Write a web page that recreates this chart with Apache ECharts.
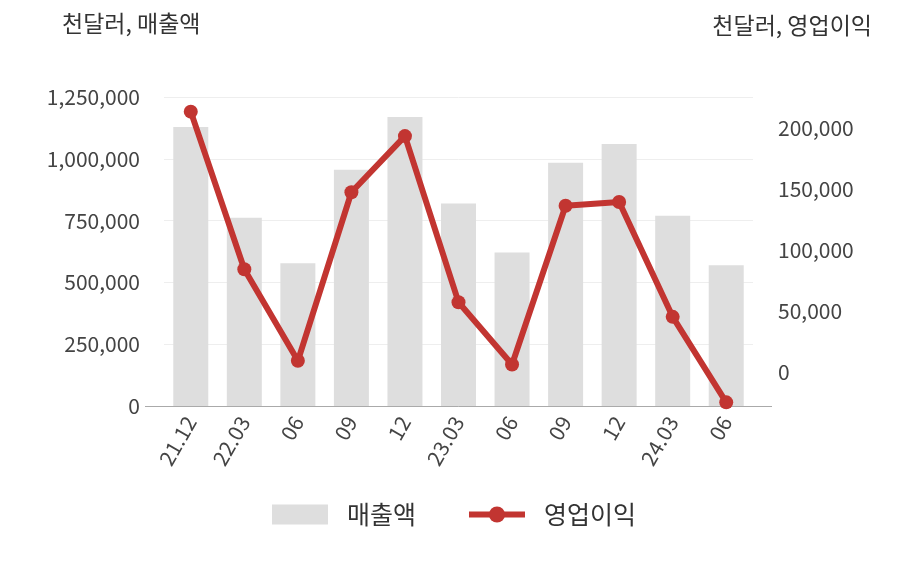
<!DOCTYPE html>
<html><head><meta charset="utf-8">
<script src="https://cdn.jsdelivr.net/npm/echarts@6/dist/echarts.min.js"></script>
<style>html,body{margin:0;padding:0;background:#fff}#c{width:908px;height:580px}</style>
</head><body><div id="c"></div>
<script>
const categories = ['21.12','22.03','06','09','12','23.03','06','09','12','24.03','06'];
const sales = [1129000,762000,577000,956000,1169000,819000,621000,984000,1060000,770000,569000];
const profit = [213000,84000,9000,147000,193000,57000,6000,136000,139000,45000,-25000];
const font = '"Noto Sans CJK KR","Noto Sans",sans-serif';
const chart = echarts.init(document.getElementById('c'));
chart.setOption({
  animation:false,
  textStyle:{fontFamily:font},
  grid:{left:164,right:155,top:97,bottom:174},
  graphic:[
    {type:'text',left:62,top:12,style:{text:'천달러, 매출액',fontSize:23,fill:'#333',fontFamily:font}},
    {type:'text',right:36,top:14,style:{text:'천달러, 영업이익',fontSize:23,fill:'#333',fontFamily:font}},
    {type:'line',shape:{x1:145,y1:406.5,x2:772,y2:406.5},style:{stroke:'#aaa',lineWidth:1}}
  ],
  legend:{bottom:48,left:'center',itemGap:50,itemWidth:56,itemHeight:20,
    textStyle:{fontSize:25,color:'#333',fontFamily:font,padding:[0,0,0,14]},
    data:[{name:'매출액',icon:'rect'},{name:'영업이익',lineStyle:{width:6}}]},
  xAxis:{type:'category',data:categories,
    axisLine:{lineStyle:{color:'#aaa'}},axisTick:{show:false},
    axisLabel:{rotate:60,fontSize:21,color:'#444',interval:0,margin:12}},
  yAxis:[
    {type:'value',min:0,max:1250000,interval:250000,
     axisLabel:{fontSize:21,color:'#444',margin:24,formatter:v=>v.toLocaleString('en-US')},
     splitLine:{lineStyle:{color:'#eee'}},axisLine:{show:false},axisTick:{show:false}},
    {type:'value',min:-28000,max:225000,interval:1000,
     axisLabel:{fontSize:21,color:'#444',interval:0,margin:25,
       formatter:v=>(v%50000===0&&v>=0&&v<=200000)?v.toLocaleString('en-US'):''},
     splitLine:{show:false},axisLine:{show:false},axisTick:{show:false}}
  ],
  series:[
    {name:'매출액',type:'bar',data:sales,barWidth:35,itemStyle:{color:'#dedede'}},
    {name:'영업이익',type:'line',yAxisIndex:1,data:profit,symbol:'circle',symbolSize:14,
     lineStyle:{width:6,color:'#c23531'},itemStyle:{color:'#c23531'}}
  ]
});
</script></body></html>
